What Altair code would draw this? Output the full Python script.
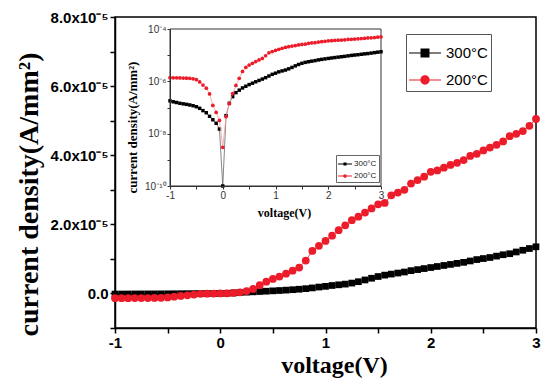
import altair as alt
import pandas as pd

# ---- data ----
voltage = [-1.0, -0.9375, -0.875, -0.8125, -0.75, -0.6875, -0.625, -0.5625, -0.5,
           -0.4375, -0.375, -0.3125, -0.25, -0.1875, -0.125, -0.0625, 0.0,
           0.0625, 0.125, 0.1875, 0.25, 0.3125, 0.375, 0.4375, 0.5,
           0.5625, 0.625, 0.6875, 0.75, 0.8125, 0.875, 0.9375, 1.0,
           1.0625, 1.125, 1.1875, 1.25, 1.3125, 1.375, 1.4375, 1.5,
           1.5625, 1.625, 1.6875, 1.75, 1.8125, 1.875, 1.9375, 2.0,
           2.0625, 2.125, 2.1875, 2.25, 2.3125, 2.375, 2.4375, 2.5,
           2.5625, 2.625, 2.6875, 2.75, 2.8125, 2.875, 2.9375, 3.0]

j_300 = [-1.8e-7, -1.65e-7, -1.55e-7, -1.45e-7, -1.38e-7, -1.32e-7, -1.25e-7, -1.17e-7, -1.07e-7,
         -9.3e-8, -7.6e-8, -6.3e-8, -4.6e-8, -3.4e-8, -2.5e-8, -1.5e-8, 1e-10,
         4.9e-8, 1.45e-7, 2.6e-7, 3.7e-7, 4.6e-7, 5.6e-7, 6.5e-7, 7.5e-7,
         8.5e-7, 9.6e-7, 1.08e-6, 1.22e-6, 1.38e-6, 1.6e-6, 1.85e-6, 2.05e-6,
         2.3e-6, 2.5e-6, 2.7e-6, 3.0e-6, 3.4e-6, 3.9e-6, 4.4e-6, 4.9e-6,
         5.3e-6, 5.6e-6, 5.9e-6, 6.2e-6, 6.6e-6, 6.9e-6, 7.2e-6, 7.5e-6,
         7.8e-6, 8.1e-6, 8.4e-6, 8.7e-6, 9.0e-6, 9.4e-6, 9.8e-6, 1.01e-5,
         1.04e-5, 1.08e-5, 1.12e-5, 1.15e-5, 1.2e-5, 1.25e-5, 1.30e-5, 1.35e-5]

j_200 = [-1.38e-6, -1.37e-6, -1.36e-6, -1.35e-6, -1.34e-6, -1.32e-6, -1.30e-6, -1.25e-6, -1.15e-6,
         -9.5e-7, -7.2e-7, -5.5e-7, -3.3e-7, -1.2e-7, -6.5e-8, -3.2e-8, 3e-9,
         4.5e-8, 1.4e-7, 3.4e-7, 7.0e-7, 1.3e-6, 2.4e-6, 3.4e-6, 4.2e-6,
         4.9e-6, 5.7e-6, 6.6e-6, 7.5e-6, 9.5e-6, 1.23e-5, 1.38e-5, 1.52e-5,
         1.67e-5, 1.83e-5, 1.97e-5, 2.12e-5, 2.22e-5, 2.34e-5, 2.46e-5, 2.58e-5,
         2.62e-5, 2.84e-5, 2.92e-5, 3.0e-5, 3.18e-5, 3.28e-5, 3.38e-5, 3.52e-5,
         3.56e-5, 3.64e-5, 3.72e-5, 3.78e-5, 3.86e-5, 3.98e-5, 4.04e-5, 4.14e-5,
         4.22e-5, 4.30e-5, 4.40e-5, 4.55e-5, 4.62e-5, 4.70e-5, 4.85e-5, 5.05e-5]

series_names = ["300°C", "200°C"]
series_colors = ["black", "#ec1c2a"]

x_ticks_main = [-1, -0.5, 0, 0.5, 1, 1.5, 2, 2.5, 3]
y_ticks_main = [-1e-5, 0, 1e-5, 2e-5, 3e-5, 4e-5, 5e-5, 6e-5, 7e-5, 8e-5]
y_ticks_inset = [1e-10, 1e-9, 1e-8, 1e-7, 1e-6, 1e-5, 1e-4]

rows = []
for name, vals in zip(series_names, [j_300, j_200]):
    for v, j in zip(voltage, vals):
        rows.append({"series": name, "V": v, "J": j, "absJ": abs(j)})
df = pd.DataFrame(rows)
frame = pd.DataFrame({"a": [0]})

RED = series_colors[1]
SANS = "Liberation Sans"
SERIF = "Liberation Serif"

# ---------------- main plot ----------------
xm_scale = alt.Scale(domain=[-1, 3], nice=False, zero=False)
ym_scale = alt.Scale(domain=[-1e-5, 8e-5], nice=False, zero=False)

xm_axis = alt.Axis(
    values=x_ticks_main, labelExpr="datum.value % 1 == 0 ? '' + datum.value : ''",
    title="voltage(V)", titleFont=SERIF, titleFontSize=24, titleFontWeight="bold",
    titleColor="black", titleX=219, titleY=44, titleBaseline="alphabetic", titleAlign="center",
    labelFont=SANS, labelFontWeight="bold", labelFontSize=15, labelColor="black",
    labelFlush=False, labelOverlap=False, labelPadding=2,
    domainColor="black", domainWidth=1.5, tickColor="black", tickWidth=1.5, tickSize=5, grid=False)

ym_axis = alt.Axis(
    values=y_ticks_main,
    labelExpr="round(datum.value*1e5) == 0 ? '0.0' : ((round(datum.value*1e5) % 2 == 0 && datum.value > 0) ? format(datum.value*1e5, '.1f') + 'x10⁻⁵' : '')",
    title="current density(A/mm²)", titleFont=SERIF, titleFontSize=28, titleFontWeight="bold",
    titleColor="black", titleX=-78, titleY=177, titleAngle=-90, titleBaseline="alphabetic",
    titleAlign="center",
    labelFont=SANS, labelFontWeight="bold", labelFontSize=15, labelColor="black",
    labelFlush=False, labelOverlap=False, labelPadding=2,
    domainColor="black", domainWidth=1.5, tickColor="black", tickWidth=1.5, tickSize=5, grid=False)

def main_series(name, color, shape, size):
    d = alt.Chart(df).transform_filter(alt.datum.series == name)
    enc = dict(x=alt.X("V:Q", scale=xm_scale, axis=xm_axis),
               y=alt.Y("J:Q", scale=ym_scale, axis=ym_axis))
    line = d.mark_line(color=color, strokeWidth=0.8).encode(**enc)
    pts = d.mark_point(shape=shape, filled=True, size=size, color=color, opacity=1).encode(**enc)
    return [line, pts]

sq_main = "M-1,-0.035H1V0.035H-1Z M-0.28,-0.28H0.28V0.28H-0.28Z"
ci_main = "M-1,-0.035H1V0.035H-1Z M0.29,0A0.29,0.29,0,1,1,-0.29,0A0.29,0.29,0,1,1,0.29,0Z"

main_legend = alt.Legend(orient="none", legendX=291, legendY=17, title=None, direction="vertical",
                         strokeColor="#555", fillColor="white", padding=3, symbolSize=1024,
                         symbolStrokeWidth=0, labelFont=SANS, labelFontSize=15, labelColor="black",
                         labelOffset=5, rowPadding=3, zindex=1)
main_leg_layer = alt.Chart(df).transform_filter("false").mark_point(filled=True, opacity=1).encode(
    color=alt.Color("series:N", scale=alt.Scale(domain=series_names, range=series_colors), legend=main_legend),
    shape=alt.Shape("series:N", scale=alt.Scale(domain=series_names, range=[sq_main, ci_main]), legend=main_legend),
)

main = alt.layer(*main_series("300°C", "black", "square", 45),
                 *main_series("200°C", RED, "circle", 60),
                 main_leg_layer)

# ---------------- inset ----------------
xi_scale = alt.Scale(domain=[-1, 3], range=[55, 266], nice=False, zero=False)
yi_scale = alt.Scale(type="log", domain=[1e-10, 1e-4], range=[169, 12], nice=False)

xi_axis = alt.Axis(
    orient="bottom", offset=-142, zindex=1,
    values=x_ticks_main, labelExpr="datum.value % 1 == 0 ? '' + datum.value : ''",
    title="voltage(V)", titleFont=SERIF, titleFontSize=12, titleFontWeight="bold", titleColor="black",
    titleX=169, titleY=30, titleBaseline="alphabetic", titleAlign="center",
    labelFont=SANS, labelFontSize=10, labelColor="#333", labelFlush=False, labelOverlap=False,
    labelPadding=1, domainColor="#333", domainWidth=1, tickColor="#333", tickWidth=1, tickSize=3, grid=False)

yi_axis = alt.Axis(
    orient="left", offset=-55, zindex=1, values=y_ticks_inset,
    labelExpr="round(log(datum.value)/LN10) == -10 ? '10⁻¹⁰' : (round(log(datum.value)/LN10) == -8 ? '10⁻⁸' : (round(log(datum.value)/LN10) == -6 ? '10⁻⁶' : (round(log(datum.value)/LN10) == -4 ? '10⁻⁴' : '')))",
    title="current density(A/mm²)", titleFont=SERIF, titleFontSize=13, titleFontWeight="bold",
    titleColor="black", titleX=-34, titleY=110, titleAngle=-90, titleBaseline="alphabetic", titleAlign="center",
    labelFont=SANS, labelFontSize=10, labelColor="#333", labelFlush=False, labelOverlap=False,
    labelPadding=1, domainColor="#333", domainWidth=1, tickColor="#333", tickWidth=1, tickSize=3, grid=False)

inset_frame = alt.Chart(frame).mark_rect(fill="white", stroke="#333", strokeWidth=1).encode(
    x=alt.X(datum=-1, scale=xi_scale, axis=xi_axis),
    x2=alt.datum(3),
    y=alt.Y(datum=1e-10, scale=yi_scale, axis=yi_axis),
    y2=alt.datum(1e-4),
)

def inset_series(name, color, line_color, shape, size):
    d = alt.Chart(df).transform_filter(alt.datum.series == name)
    enc = dict(x=alt.X("V:Q", scale=xi_scale, axis=xi_axis),
               y=alt.Y("absJ:Q", scale=yi_scale, axis=yi_axis))
    line = d.mark_line(color=line_color, strokeWidth=0.8).encode(**enc)
    pts = d.mark_point(shape=shape, filled=True, size=size, color=color, opacity=1).encode(**enc)
    return [line, pts]

sq_in = "M-1,-0.07H1V0.07H-1Z M-0.22,-0.22H0.22V0.22H-0.22Z"
ci_in = "M-1,-0.07H1V0.07H-1Z M0.26,0A0.26,0.26,0,1,1,-0.26,0A0.26,0.26,0,1,1,0.26,0Z"

inset_legend = alt.Legend(orient="none", legendX=221, legendY=138, title=None, direction="vertical",
                          strokeColor="#666", fillColor="white", padding=2, symbolSize=196,
                          symbolStrokeWidth=0, labelFont=SANS, labelFontSize=8, labelColor="#222",
                          labelOffset=2, rowPadding=1, zindex=1)
inset_leg_layer = alt.Chart(df).transform_filter("false").mark_point(filled=True, opacity=1).encode(
    color=alt.Color("series:N", scale=alt.Scale(domain=series_names, range=series_colors), legend=inset_legend),
    shape=alt.Shape("series:N", scale=alt.Scale(domain=series_names, range=[sq_in, ci_in]), legend=inset_legend),
)

inset = alt.layer(inset_frame,
                  *inset_series("300°C", "black", "#666", "square", 12),
                  *inset_series("200°C", RED, "#f59aa0", "circle", 14),
                  inset_leg_layer)

chart = alt.layer(main, inset).resolve_scale(
    x="independent", y="independent", color="independent", shape="independent"
).properties(
    width=421, height=311,
    autosize=alt.AutoSizeParams(type="none"),
    padding={"left": 107, "top": 9, "right": 6, "bottom": 51},
).configure_view(stroke="black", strokeWidth=1.5)

chart.save("out.html", embed_options={"renderer": "svg", "actions": False})
